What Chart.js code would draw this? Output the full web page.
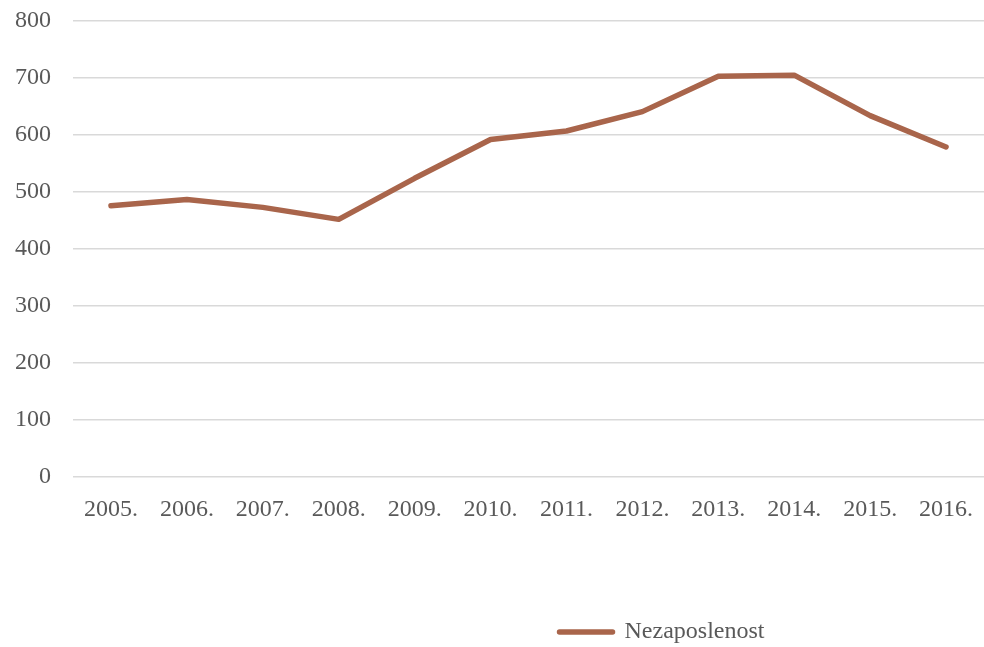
<!DOCTYPE html>
<html>
<head>
<meta charset="utf-8">
<script src="https://cdn.jsdelivr.net/npm/chart.js@4/dist/chart.umd.min.js"></script>
<style>
  html, body { margin: 0; padding: 0; background: #fff; }
  #wrap { width: 984px; height: 647px; }
</style>
</head>
<body>
<div id="wrap"><canvas id="chart" width="984" height="647"></canvas></div>
<script>
// Chart data
const years = ["2005.", "2006.", "2007.", "2008.", "2009.", "2010.", "2011.", "2012.", "2013.", "2014.", "2015.", "2016."];
const unemployment = [476, 487, 473, 452, 524, 592, 607, 641, 703, 705, 634, 579];
const seriesName = "Nezaposlenost";

const lineColor = "#a9654b";
const textColor = "#595959";
const gridColor = "#d9d9d9";
const font = { family: "'Liberation Serif', serif", size: 24 };

// Excel puts the legend off-centre, shift it right and a bit lower
const legendShift = {
  id: "legendShift",
  afterLayout(chart) {
    const lg = chart.legend;
    lg.left += 168;
    lg.right += 168;
    lg.top += 7;
    lg.bottom += 7;
    if (lg.legendHitBoxes) lg.legendHitBoxes.forEach((b) => { b.left += 168; b.top += 7; });
  },
};

new Chart(document.getElementById("chart").getContext("2d"), {
  type: "line",
  data: {
    labels: years,
    datasets: [
      {
        label: seriesName,
        data: unemployment,
        borderColor: lineColor,
        backgroundColor: lineColor,
        borderWidth: 5.5,
        borderCapStyle: "round",
        borderJoinStyle: "round",
        pointRadius: 0,
        tension: 0,
        fill: false,
      },
    ],
  },
  options: {
    responsive: false,
    animation: false,
    layout: { padding: { top: 21, right: -4, left: 0, bottom: 0 } },
    plugins: {
      tooltip: { enabled: false },
      legend: {
        position: "bottom",
        labels: {
          color: textColor,
          font: font,
          padding: 0,
          usePointStyle: true,
          pointStyleWidth: 53,
          generateLabels: (chart) => [
            {
              text: seriesName,
              fontColor: textColor,
              pointStyle: "line",
              strokeStyle: lineColor,
              fillStyle: lineColor,
              lineWidth: 5.5,
              lineCap: "round",
              datasetIndex: 0,
            },
          ],
        },
      },
    },
    scales: {
      x: {
        offset: true,
        grid: { display: false },
        border: { display: false },
        ticks: { color: textColor, font: font, padding: 10, maxRotation: 0 },
        afterFit: (scale) => {
          scale.height = 136;
        },
      },
      y: {
        min: 0,
        max: 800,
        ticks: { stepSize: 100, color: textColor, font: font, padding: 22 },
        grid: { color: gridColor, lineWidth: 1.5, drawTicks: false },
        border: { display: false },
        afterFit: (scale) => {
          scale.width = 73;
          scale.paddingTop = 0;
          scale.paddingBottom = 0;
        },
      },
    },
  },
  plugins: [legendShift],
});
</script>
</body>
</html>
